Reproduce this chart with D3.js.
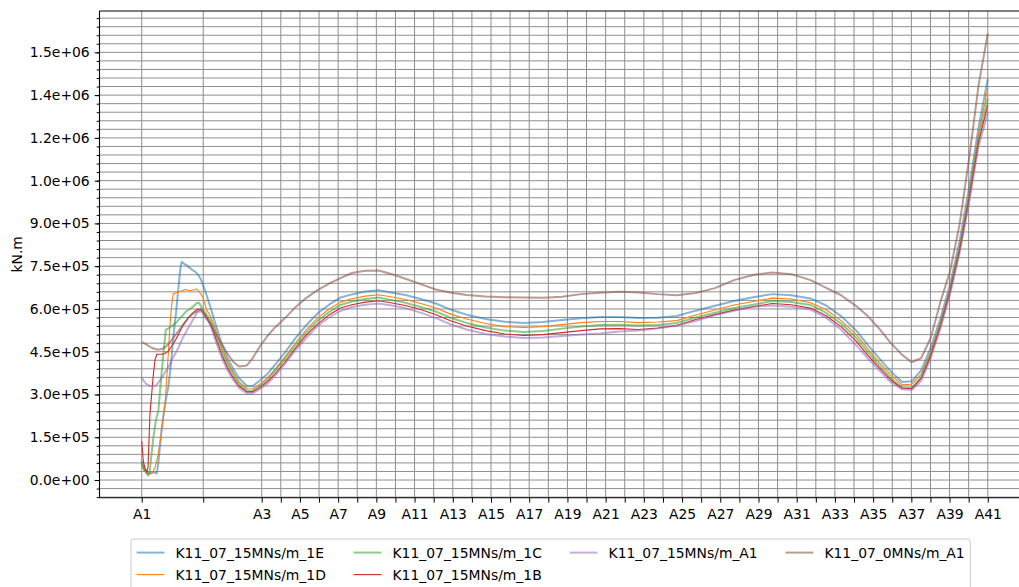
<!DOCTYPE html>
<html>
<head>
<meta charset="utf-8">
<script src="https://cdn.jsdelivr.net/npm/d3@7"></script>
<style>
  html, body { margin: 0; padding: 0; background: #fff; }
  svg { display: block; font-family: "DejaVu Sans", sans-serif; }
</style>
</head>
<body>
<svg id="chart" width="1019" height="587"></svg>
<script>
// Stations along the structure and their positions (distance units)
const stationNames = ["A1","A2","A3","A4","A5","A6","A7","A8","A9","A10","A11","A12","A13","A14","A15","A16","A17","A18","A19","A20","A21","A22","A23","A24","A25","A26","A27","A28","A29","A30","A31","A32","A33","A34","A35","A36","A37","A38","A39","A40","A41"];
const stationPos = [0,32.2,62.8,72.8,82.8,92.8,102.8,112.8,122.8,132.8,142.8,152.8,162.8,172.8,182.8,192.8,202.8,212.8,222.8,232.8,242.8,252.8,262.8,272.8,282.8,292.8,302.8,312.8,322.8,332.8,342.8,352.8,362.8,372.8,382.8,392.8,402.8,412.8,422.8,432.8,442.8];

// Bending moment axis ticks (kN.m)
const yTickValues = [0,150000,300000,450000,600000,750000,900000,1050000,1200000,1350000,1500000];
const yTickLabels = ["0.0e+00","1.5e+05","3.0e+05","4.5e+05","6.0e+05","7.5e+05","9.0e+05","1.0e+06","1.2e+06","1.4e+06","1.5e+06"];
const yMinorStep = 30000;

// Envelope curves: [position, moment in kN.m]
const s1E = [[0,66000],[1.2,38000],[2.8,28000],[4.3,24000],[6.1,27000],[7.9,23000],[8.8,66000],[10.5,184000],[12.2,266000],[13.9,325000],[15.3,406000],[16.5,500000],[18,591000],[19.2,675000],[20.3,745000],[20.9,765000],[22.1,759000],[23.7,752000],[26.2,738000],[27.9,731000],[29.5,720000],[31,703000],[33,668000],[36,605000],[39,538000],[42,476000],[45,427000],[48,388000],[51,357000],[55,330000],[58,329000],[62,350000],[66,374000],[70,406000],[75,448000],[80,493000],[86,542000],[92,584000],[98,615000],[104,640000],[110,651000],[117,661000],[124,666000],[131,657000],[138,649000],[146,635000],[154,619000],[162,597000],[170,580000],[180,565000],[190,555000],[200,551000],[210,554000],[220,561000],[230,567000],[240,572000],[250,572000],[260,568000],[270,569000],[280,575000],[290,594000],[300,611000],[310,628000],[320,641000],[330,652000],[340,648000],[350,637000],[358,613000],[366,575000],[374,524000],[380,474000],[386,427000],[392,381000],[398,344000],[403,346000],[408,385000],[413,465000],[418,566000],[423,685000],[428,836000],[433,1024000],[438,1238000],[442.8,1406000]];

const s1D = [[0,52000],[1.7,31000],[3.3,21000],[4.3,21000],[5.4,24000],[7,45000],[8.7,91000],[10.4,171000],[12.2,266000],[13.9,441000],[14.8,545000],[15.7,615000],[16.5,653000],[18,657000],[20,661000],[22.7,668000],[25.3,664000],[28.8,670000],[30.5,656000],[32.2,639000],[34,596000],[36,575000],[39,520000],[42,462000],[45,414000],[48,376000],[51,344000],[55,320000],[58,319000],[62,337000],[66,360000],[70,390000],[75,432000],[80,477000],[86,526000],[92,568000],[98,600000],[104,624000],[110,636000],[117,645000],[124,650000],[131,642000],[138,633000],[146,619000],[154,603000],[162,581000],[170,565000],[180,549000],[190,538000],[200,535000],[210,538000],[220,545000],[230,552000],[240,556000],[250,556000],[260,552000],[270,554000],[280,559000],[290,579000],[300,596000],[310,614000],[320,626000],[330,638000],[340,635000],[350,622000],[358,598000],[366,559000],[374,510000],[380,460000],[386,413000],[392,369000],[398,334000],[403,336000],[408,371000],[413,451000],[418,552000],[423,671000],[428,818000],[433,1003000],[438,1213000],[442.8,1374000]];

const s1C = [[0,59000],[1.2,38000],[2.6,21000],[3.6,16000],[4.3,38000],[6.1,149000],[7.5,213000],[8.7,242000],[10.1,353000],[11.3,441000],[12.6,528000],[13.8,531000],[15.7,540000],[18,552000],[20.9,574000],[23.2,591000],[26.2,604000],[28.8,621000],[30,622000],[31.4,605000],[33,590000],[36,560000],[39,505000],[42,449000],[45,404000],[48,367000],[51,337000],[55,313000],[58,312000],[62,330000],[66,353000],[70,385000],[75,425000],[80,469000],[86,516000],[92,558000],[98,589000],[104,614000],[110,626000],[117,635000],[124,640000],[131,631000],[138,622000],[146,607000],[154,591000],[162,568000],[170,551000],[180,535000],[190,524000],[200,519000],[210,523000],[220,531000],[230,538000],[240,544000],[250,545000],[260,542000],[270,544000],[280,551000],[290,570000],[300,587000],[310,603000],[320,615000],[330,628000],[340,624000],[350,614000],[358,587000],[366,549000],[374,498000],[380,449000],[386,402000],[392,358000],[398,325000],[403,323000],[408,362000],[413,442000],[418,545000],[423,664000],[428,808000],[433,990000],[438,1196000],[442.8,1339000]];

const s1B = [[0,137000],[0.8,67000],[1.7,42000],[2.6,27000],[3.3,45000],[4.3,231000],[6.1,371000],[7,423000],[7.9,441000],[10.5,441000],[12.2,444000],[13.9,452000],[16.4,476000],[19.2,510000],[21.6,542000],[24.4,569000],[26.9,587000],[28.9,598000],[30.5,600000],[31.6,594000],[33.1,580000],[36,548000],[39,492000],[42,437000],[45,392000],[48,357000],[51,329000],[55,309000],[58,309000],[62,325000],[66,346000],[70,374000],[75,414000],[80,458000],[86,507000],[92,547000],[98,579000],[104,603000],[110,615000],[117,624000],[124,629000],[131,621000],[138,612000],[146,598000],[154,580000],[162,558000],[170,540000],[180,524000],[190,512000],[200,507000],[210,510000],[220,517000],[230,524000],[240,530000],[250,531000],[260,528000],[270,533000],[280,542000],[290,563000],[300,580000],[310,596000],[320,608000],[330,619000],[340,615000],[350,603000],[358,577000],[366,538000],[374,486000],[380,437000],[386,393000],[392,351000],[398,322000],[403,320000],[408,357000],[413,437000],[418,540000],[423,659000],[428,802000],[433,983000],[438,1185000],[442.8,1315000]];

const sA1 = [[0,360000],[1.2,346000],[2.6,336000],[4.3,330000],[6.1,330000],[7.5,332000],[8.7,342000],[10.6,360000],[12.2,378000],[13.9,394000],[16.4,430000],[19.2,464000],[21.6,500000],[24.4,534000],[26.9,563000],[28.9,587000],[30.5,592000],[31.8,587000],[33.1,570000],[34.9,557000],[36,542000],[39,483000],[42,427000],[45,383000],[48,350000],[51,322000],[55,304000],[58,304000],[62,320000],[66,339000],[70,367000],[75,407000],[80,451000],[86,497000],[92,540000],[98,570000],[104,593000],[110,607000],[117,615000],[124,619000],[131,612000],[138,603000],[146,587000],[154,568000],[162,545000],[170,528000],[180,512000],[190,503000],[200,498000],[210,500000],[220,505000],[230,510000],[240,514000],[250,521000],[260,524000],[270,531000],[280,542000],[290,558000],[300,579000],[310,594000],[320,608000],[330,612000],[340,608000],[350,598000],[358,570000],[366,528000],[374,472000],[380,427000],[386,385000],[392,343000],[398,318000],[403,316000],[408,348000],[413,428000],[418,530000],[423,650000],[428,794000],[433,972000],[438,1171000],[442.8,1287000]];

const s0A1 = [[0,484000],[2.3,476000],[5.2,464000],[7.9,458000],[9.6,458000],[11.7,463000],[13.9,476000],[16.4,498000],[19.2,522000],[21.6,545000],[24.4,569000],[26.9,584000],[29.6,594000],[31,598000],[33,580000],[36,547000],[39,510000],[42,476000],[45,442000],[48,414000],[51,398000],[55,402000],[58,427000],[62,470000],[66,507000],[70,537000],[75,568000],[80,603000],[86,638000],[92,666000],[98,689000],[104,708000],[110,726000],[117,734000],[124,735000],[131,722000],[138,706000],[146,687000],[154,668000],[162,657000],[170,649000],[180,644000],[190,641000],[200,640000],[210,639000],[220,643000],[230,652000],[240,657000],[250,660000],[260,658000],[270,652000],[280,648000],[290,656000],[300,673000],[310,701000],[320,719000],[330,728000],[340,722000],[350,701000],[358,675000],[366,648000],[374,610000],[380,575000],[386,531000],[392,481000],[398,439000],[403,413000],[408,428000],[413,500000],[418,624000],[423,731000],[428,895000],[433,1126000],[438,1385000],[442.8,1566000]];

const seriesNames = ["K11_07_15MNs/m_1E","K11_07_15MNs/m_1D","K11_07_15MNs/m_1C","K11_07_15MNs/m_1B","K11_07_15MNs/m_A1","K11_07_0MNs/m_A1"];
const seriesData = [s1E, s1D, s1C, s1B, sA1, s0A1];
const seriesColors = ["#1f77b4","#ff7f0e","#2ca02c","#d62728","#9467bd","#8c564b"];
const seriesWidths = [2, 1.1, 2, 1.1, 2, 2];
const seriesOpacity = [0.55, 1, 0.55, 1, 0.55, 0.6];

const FONT = 13.9;
const plot = { left: 99.5, right: 1030, top: 11, bottom: 497.7 };

const svg = d3.select("#chart");
svg.append("rect").attr("width", 1019).attr("height", 587).attr("fill", "#fff");

const x = d3.scaleLinear().domain([-22.1, 464.9]).range([plot.left, plot.right]);
const y = d3.scaleLinear().domain([-62000, 1645000]).range([plot.bottom, plot.top]);

const minorTicks = d3.range(-60000, 1645000, yMinorStep);

// grid
const grid = svg.append("g").attr("stroke", "#8e8e8e").attr("stroke-width", 1);
grid.selectAll("line.h").data(minorTicks).join("line")
  .attr("x1", plot.left).attr("x2", plot.right)
  .attr("y1", d => y(d)).attr("y2", d => y(d));
grid.selectAll("line.v").data(stationPos).join("line")
  .attr("x1", d => x(d)).attr("x2", d => x(d))
  .attr("y1", plot.top).attr("y2", plot.bottom);

// curves
svg.append("clipPath").attr("id", "clip").append("rect")
  .attr("x", plot.left).attr("y", plot.top)
  .attr("width", plot.right - plot.left).attr("height", plot.bottom - plot.top);

const line = d3.line().x(d => x(d[0])).y(d => y(d[1]));
svg.append("g").attr("clip-path", "url(#clip)")
  .selectAll("path").data(seriesData).join("path")
  .attr("d", line)
  .attr("fill", "none")
  .attr("stroke", (d, i) => seriesColors[i])
  .attr("stroke-width", (d, i) => seriesWidths[i])
  .attr("stroke-opacity", (d, i) => seriesOpacity[i])
  .attr("stroke-linejoin", "round");

// axes
const yAxis = d3.axisLeft(y).tickValues(yTickValues)
  .tickFormat((d, i) => yTickLabels[i]).tickSize(4.9).tickPadding(4.9);
const yMinor = d3.axisLeft(y).tickValues(minorTicks).tickFormat("").tickSize(2.8);
const xAxis = d3.axisBottom(x).tickValues(stationPos)
  .tickFormat((d, i) => i % 2 === 0 ? stationNames[i] : "").tickSize(4.9).tickPadding(6.8);

function styleAxis(g) {
  g.select(".domain").remove();
  g.attr("font-family", "DejaVu Sans, sans-serif").attr("font-size", FONT);
  g.selectAll(".tick line").attr("stroke", "#000").attr("stroke-width", 1);
  g.selectAll(".tick text").attr("fill", "#000");
}
svg.append("g").attr("transform", `translate(${plot.left},0)`).call(yMinor).call(styleAxis);
svg.append("g").attr("transform", `translate(${plot.left},0)`).call(yAxis).call(styleAxis);
svg.append("g").attr("transform", `translate(0,${plot.bottom})`).call(xAxis).call(styleAxis);

// spines
const spines = svg.append("g").attr("stroke", "#000").attr("stroke-width", 1.1);
spines.append("line").attr("x1", plot.left).attr("x2", plot.left).attr("y1", plot.top).attr("y2", plot.bottom);
spines.append("line").attr("x1", plot.left).attr("x2", plot.right).attr("y1", plot.bottom).attr("y2", plot.bottom);
spines.append("line").attr("x1", plot.left).attr("x2", plot.right).attr("y1", plot.top).attr("y2", plot.top);

// y label
svg.append("text")
  .attr("transform", `translate(21.7,${(plot.top + plot.bottom) / 2}) rotate(-90)`)
  .attr("text-anchor", "middle").attr("font-size", FONT).attr("fill", "#000")
  .text("kN.m");

// legend (4 columns, filled column by column)
const legend = { left: 131, top: 539, rowGap: 22, pad: 5.6, handle: 27.8, handlePad: 11.1, colGap: 27.8 };
const lg = svg.append("g");
const frame = lg.append("rect").attr("x", legend.left).attr("y", legend.top)
  .attr("rx", 3).attr("fill", "#fff").attr("fill-opacity", 0.8)
  .attr("stroke", "#cccccc").attr("stroke-width", 1);
const columns = [[0, 1], [2, 3], [4], [5]];
let cx = legend.left + legend.pad;
let rightEdge = cx;
columns.forEach(col => {
  let maxW = 0;
  col.forEach((si, r) => {
    const cy = legend.top + legend.pad + 8 + r * legend.rowGap;
    lg.append("line").attr("x1", cx).attr("x2", cx + legend.handle)
      .attr("y1", cy).attr("y2", cy)
      .attr("stroke", seriesColors[si]).attr("stroke-width", seriesWidths[si])
      .attr("stroke-opacity", seriesOpacity[si]);
    const t = lg.append("text").attr("x", cx + legend.handle + legend.handlePad)
      .attr("y", cy + 5).attr("font-size", FONT).attr("fill", "#000")
      .text(seriesNames[si]);
    maxW = Math.max(maxW, t.node().getComputedTextLength());
  });
  rightEdge = cx + legend.handle + legend.handlePad + maxW;
  cx = rightEdge + legend.colGap;
});
frame.attr("width", rightEdge + legend.pad - legend.left).attr("height", 60);
</script>
</body>
</html>
